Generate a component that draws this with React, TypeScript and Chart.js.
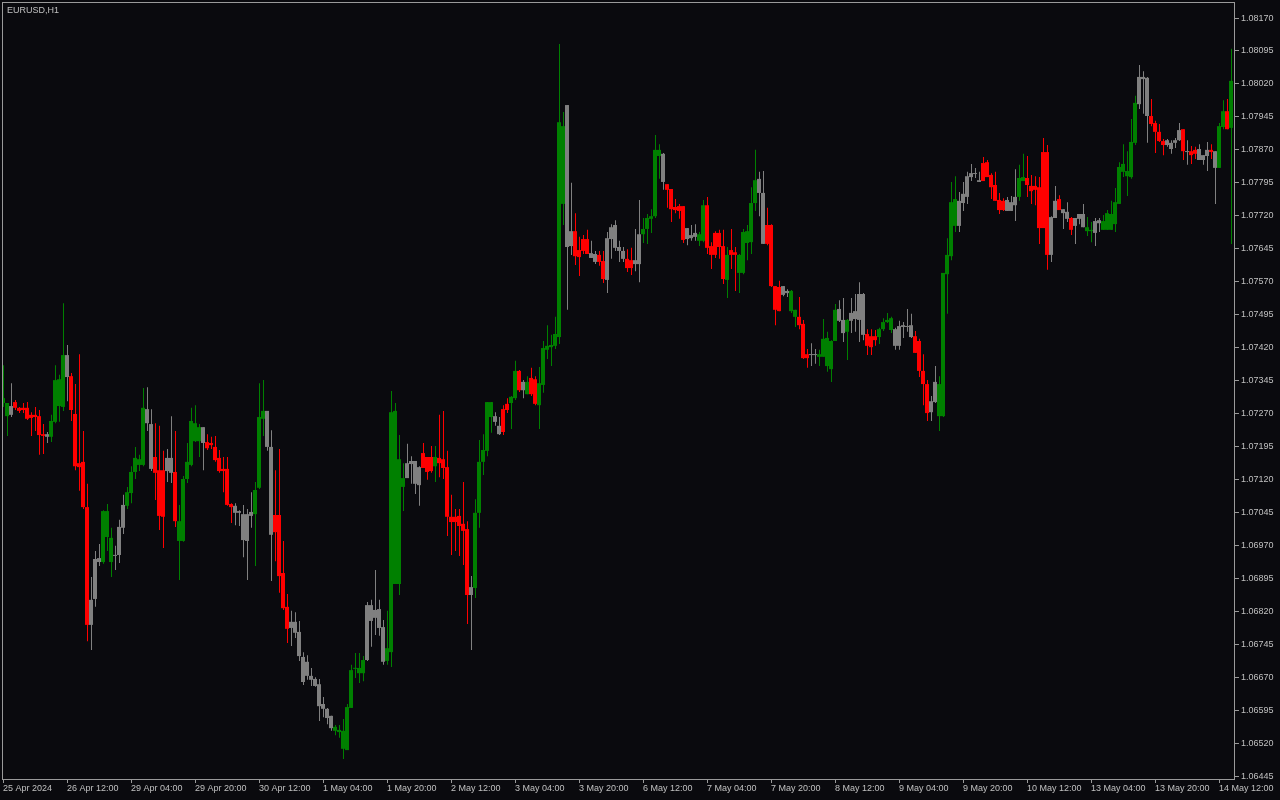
import React, { useEffect, useRef } from 'react';
import { Chart, registerables } from 'chart.js';

Chart.register(...registerables);

const symbolTitle = 'EURUSD,H1';

const timeLabels = [
  '25 Apr 2024', '26 Apr 12:00', '29 Apr 04:00', '29 Apr 20:00', '30 Apr 12:00',
  '1 May 04:00', '1 May 20:00', '2 May 12:00', '3 May 04:00', '3 May 20:00',
  '6 May 12:00', '7 May 04:00', '7 May 20:00', '8 May 12:00', '9 May 04:00',
  '9 May 20:00', '10 May 12:00', '13 May 04:00', '13 May 20:00', '14 May 12:00',
];
const barsPerTimeLabel = 16;

const priceTicks = [
  1.06445, 1.0652, 1.06595, 1.0667, 1.06745, 1.0682, 1.06895, 1.0697,
  1.07045, 1.0712, 1.07195, 1.0727, 1.07345, 1.0742, 1.07495, 1.0757,
  1.07645, 1.0772, 1.07795, 1.0787, 1.07945, 1.0802, 1.08095, 1.0817,
];
const priceMin = 1.06436;
const priceMax = 1.082065;

const opens = [
  1.07294,1.07264,1.07287,1.07296,1.07283,1.07283,1.07283,1.07267,1.07267,1.07264,
  1.07223,1.07217,1.07217,1.07251,1.07287,1.07285,1.07403,1.07355,1.07269,1.07157,
  1.07160,1.07057,1.06789,1.06848,1.06941,1.06932,1.06989,1.06932,1.06948,1.06948,
  1.07010,1.07060,1.07089,1.07137,1.07153,1.07153,1.07280,1.07246,1.07171,1.07141,
  1.07141,1.07139,1.07169,1.07137,1.06980,1.06980,1.07121,1.07153,1.07207,1.07207,
  1.07239,1.07205,1.07203,1.07194,1.07169,1.07144,1.07144,1.07064,1.07060,1.07048,
  1.07041,1.06980,1.07046,1.07041,1.07101,1.07258,1.07276,1.07194,1.07039,1.07039,
  1.06907,1.06830,1.06782,1.06796,1.06773,1.06716,1.06673,1.06673,1.06666,1.06654,
  1.06609,1.06598,1.06582,1.06548,1.06545,1.06507,1.06504,1.06600,1.06689,1.06679,
  1.06679,1.06709,1.06834,1.06805,1.06825,1.06784,1.06707,1.06727,1.07276,1.06882,
  1.07103,1.07123,1.07155,1.07162,1.07107,1.07180,1.07171,1.07171,1.07150,1.07169,
  1.07166,1.07148,1.07035,1.07035,1.07037,1.07019,1.07007,1.06857,1.06873,1.07044,
  1.07160,1.07185,1.07296,1.07264,1.07242,1.07228,1.07278,1.07294,1.07305,1.07367,
  1.07323,1.07342,1.07314,1.07348,1.07289,1.07335,1.07415,1.07421,1.07424,1.07444,
  1.07747,1.07972,1.07651,1.07685,1.07642,1.07640,1.07667,1.07635,1.07633,1.07631,
  1.07617,1.07574,1.07667,1.07699,1.07649,1.07640,1.07622,1.07619,1.07610,1.07610,
  1.07678,1.07690,1.07713,1.07719,1.07870,1.07861,1.07792,1.07781,1.07740,1.07742,
  1.07742,1.07667,1.07669,1.07681,1.07663,1.07663,1.07744,1.07651,1.07631,1.07681,
  1.07651,1.07574,1.07631,1.07637,1.07631,1.07590,1.07685,1.07660,1.07749,1.07804,
  1.07772,1.07656,1.07699,1.07560,1.07503,1.07560,1.07544,1.07549,1.07506,1.07490,
  1.07474,1.07396,1.07405,1.07403,1.07399,1.07399,1.07442,1.07371,1.07435,1.07508,
  1.07483,1.07456,1.07481,1.07503,1.07483,1.07542,1.07451,1.07446,1.07437,1.07444,
  1.07462,1.07478,1.07487,1.07462,1.07424,1.07471,1.07467,1.07471,1.07446,1.07435,
  1.07367,1.07337,1.07273,1.07296,1.07337,1.07264,1.07587,1.07628,1.07758,1.07697,
  1.07749,1.07763,1.07808,1.07817,1.07801,1.07799,1.07842,1.07813,1.07790,1.07756,
  1.07754,1.07731,1.07751,1.07744,1.07763,1.07799,1.07806,1.07788,1.07788,1.07785,
  1.07692,1.07865,1.07631,1.07715,1.07758,1.07735,1.07729,1.07715,1.07697,1.07713,
  1.07724,1.07694,1.07685,1.07681,1.07710,1.07688,1.07688,1.07688,1.07701,1.07747,
  1.07820,1.07810,1.07808,1.07886,1.07974,1.08036,1.08034,1.07947,1.07931,1.07911,
  1.07890,1.07881,1.07886,1.07886,1.07892,1.07917,1.07867,1.07867,1.07870,1.07872,
  1.07847,1.07856,1.07870,1.07867,1.07829,1.07922,1.07958,1.07920,
];

const highs = [
  1.07380,1.07294,1.07339,1.07301,1.07285,1.07294,1.07296,1.07273,1.07285,1.07278,
  1.07246,1.07228,1.07267,1.07380,1.07358,1.07521,1.07426,1.07362,1.07337,1.07405,
  1.07230,1.07110,1.06898,1.06957,1.06973,1.07050,1.07064,1.07010,1.06969,1.07028,
  1.07085,1.07103,1.07150,1.07194,1.07176,1.07328,1.07330,1.07280,1.07248,1.07242,
  1.07185,1.07189,1.07264,1.07230,1.07062,1.07128,1.07203,1.07283,1.07289,1.07246,
  1.07239,1.07223,1.07217,1.07219,1.07187,1.07171,1.07171,1.07066,1.07066,1.07050,
  1.07062,1.07053,1.07091,1.07114,1.07339,1.07346,1.07276,1.07232,1.07141,1.07189,
  1.06980,1.06859,1.06821,1.06818,1.06798,1.06727,1.06720,1.06691,1.06670,1.06666,
  1.06625,1.06600,1.06582,1.06561,1.06561,1.06575,1.06609,1.06698,1.06725,1.06725,
  1.06718,1.06841,1.06846,1.06914,1.06846,1.06800,1.06821,1.07321,1.07294,1.07221,
  1.07157,1.07201,1.07173,1.07162,1.07150,1.07203,1.07171,1.07196,1.07196,1.07267,
  1.07276,1.07185,1.07085,1.07053,1.07053,1.07114,1.07025,1.06900,1.07075,1.07210,
  1.07223,1.07296,1.07296,1.07273,1.07262,1.07289,1.07305,1.07310,1.07390,1.07369,
  1.07346,1.07355,1.07374,1.07355,1.07376,1.07435,1.07471,1.07449,1.07490,1.08111,
  1.07956,1.07972,1.07795,1.07726,1.07672,1.07676,1.07688,1.07663,1.07640,1.07640,
  1.07640,1.07683,1.07701,1.07710,1.07663,1.07649,1.07644,1.07647,1.07690,1.07756,
  1.07715,1.07724,1.07735,1.07904,1.07883,1.07863,1.07792,1.07781,1.07758,1.07747,
  1.07742,1.07692,1.07699,1.07701,1.07683,1.07756,1.07763,1.07660,1.07685,1.07688,
  1.07688,1.07649,1.07690,1.07649,1.07633,1.07690,1.07699,1.07785,1.07870,1.07820,
  1.07822,1.07738,1.07701,1.07560,1.07572,1.07560,1.07553,1.07551,1.07506,1.07535,
  1.07483,1.07417,1.07430,1.07417,1.07415,1.07485,1.07456,1.07437,1.07519,1.07528,
  1.07533,1.07485,1.07533,1.07542,1.07569,1.07544,1.07462,1.07462,1.07460,1.07465,
  1.07487,1.07499,1.07490,1.07465,1.07481,1.07478,1.07508,1.07497,1.07458,1.07440,
  1.07405,1.07346,1.07310,1.07378,1.07355,1.07590,1.07669,1.07797,1.07810,1.07774,
  1.07797,1.07820,1.07838,1.07829,1.07820,1.07854,1.07847,1.07817,1.07820,1.07772,
  1.07760,1.07763,1.07765,1.07826,1.07836,1.07861,1.07856,1.07813,1.07810,1.07808,
  1.07897,1.07881,1.07719,1.07788,1.07767,1.07735,1.07751,1.07717,1.07715,1.07724,
  1.07747,1.07717,1.07706,1.07715,1.07715,1.07722,1.07733,1.07754,1.07783,1.07842,
  1.07883,1.07867,1.07940,1.07993,1.08063,1.08049,1.08036,1.07986,1.07936,1.07929,
  1.07895,1.07895,1.07892,1.07897,1.07931,1.07917,1.07892,1.07879,1.07877,1.07883,
  1.07858,1.07888,1.07883,1.07867,1.07931,1.07983,1.07986,1.08100,
];

const lows = [
  1.07285,1.07219,1.07262,1.07278,1.07271,1.07271,1.07255,1.07219,1.07230,1.07176,
  1.07178,1.07203,1.07205,1.07248,1.07251,1.07276,1.07298,1.07253,1.07141,1.07094,
  1.07053,1.06752,1.06732,1.06830,1.06923,1.06928,1.06957,1.06898,1.06914,1.06930,
  1.06996,1.07053,1.07066,1.07121,1.07139,1.07150,1.07230,1.07139,1.07073,1.07005,
  1.06964,1.07114,1.07112,1.07012,1.06891,1.06978,1.07112,1.07150,1.07205,1.07171,
  1.07141,1.07187,1.07189,1.07160,1.07135,1.07091,1.07060,1.07021,1.07016,1.07014,
  1.06943,1.06891,1.07010,1.06923,1.07098,1.07219,1.07185,1.06889,1.06934,1.06862,
  1.06823,1.06748,1.06741,1.06759,1.06707,1.06652,1.06664,1.06650,1.06648,1.06570,
  1.06579,1.06563,1.06548,1.06538,1.06532,1.06484,1.06504,1.06600,1.06668,1.06657,
  1.06661,1.06707,1.06739,1.06766,1.06764,1.06698,1.06698,1.06693,1.06882,1.06857,
  1.07048,1.07123,1.07110,1.07087,1.07060,1.07146,1.07119,1.07135,1.07114,1.07125,
  1.07121,1.06991,1.06948,1.06957,1.06946,1.06925,1.06791,1.06732,1.06850,1.07010,
  1.07130,1.07173,1.07226,1.07242,1.07221,1.07221,1.07271,1.07235,1.07301,1.07319,
  1.07305,1.07314,1.07310,1.07289,1.07235,1.07317,1.07394,1.07378,1.07417,1.07428,
  1.07699,1.07506,1.07631,1.07608,1.07583,1.07633,1.07633,1.07624,1.07610,1.07606,
  1.07567,1.07544,1.07622,1.07640,1.07615,1.07615,1.07592,1.07585,1.07594,1.07569,
  1.07658,1.07656,1.07681,1.07715,1.07804,1.07779,1.07738,1.07706,1.07726,1.07713,
  1.07658,1.07653,1.07663,1.07663,1.07651,1.07660,1.07633,1.07599,1.07624,1.07622,
  1.07565,1.07533,1.07599,1.07549,1.07544,1.07587,1.07619,1.07633,1.07731,1.07719,
  1.07656,1.07653,1.07558,1.07471,1.07503,1.07537,1.07535,1.07499,1.07467,1.07462,
  1.07394,1.07374,1.07378,1.07383,1.07378,1.07399,1.07365,1.07342,1.07435,1.07478,
  1.07433,1.07392,1.07453,1.07456,1.07433,1.07437,1.07403,1.07403,1.07424,1.07428,
  1.07458,1.07476,1.07453,1.07415,1.07415,1.07442,1.07456,1.07442,1.07408,1.07353,
  1.07289,1.07253,1.07253,1.07294,1.07230,1.07262,1.07497,1.07619,1.07683,1.07683,
  1.07731,1.07747,1.07799,1.07806,1.07797,1.07799,1.07808,1.07758,1.07754,1.07724,
  1.07731,1.07731,1.07731,1.07708,1.07754,1.07799,1.07763,1.07747,1.07744,1.07656,
  1.07692,1.07597,1.07615,1.07715,1.07733,1.07690,1.07706,1.07676,1.07656,1.07701,
  1.07694,1.07674,1.07660,1.07651,1.07683,1.07688,1.07688,1.07688,1.07683,1.07747,
  1.07808,1.07765,1.07804,1.07881,1.07963,1.07952,1.07886,1.07924,1.07863,1.07888,
  1.07858,1.07877,1.07861,1.07874,1.07890,1.07847,1.07836,1.07838,1.07849,1.07847,
  1.07836,1.07822,1.07849,1.07747,1.07829,1.07917,1.07917,1.07656,
];

const closes = [
  1.07305,1.07294,1.07267,1.07283,1.07276,1.07278,1.07258,1.07260,1.07262,1.07221,
  1.07219,1.07223,1.07253,1.07346,1.07348,1.07403,1.07353,1.07278,1.07150,1.07148,
  1.07057,1.06789,1.06846,1.06939,1.06932,1.07048,1.07048,1.06987,1.06946,1.07012,
  1.07062,1.07091,1.07137,1.07169,1.07166,1.07283,1.07248,1.07144,1.07135,1.07037,
  1.07035,1.07169,1.07135,1.07025,1.07025,1.07121,1.07160,1.07253,1.07248,1.07239,
  1.07203,1.07191,1.07198,1.07164,1.07139,1.07139,1.07062,1.07057,1.07044,1.07044,
  1.06982,1.07041,1.07037,1.07096,1.07262,1.07276,1.07194,1.06994,1.07000,1.06900,
  1.06827,1.06780,1.06796,1.06771,1.06718,1.06659,1.06705,1.06664,1.06650,1.06604,
  1.06598,1.06577,1.06554,1.06557,1.06550,1.06548,1.06602,1.06686,1.06691,1.06691,
  1.06709,1.06834,1.06798,1.06823,1.06782,1.06705,1.06736,1.07273,1.06882,1.07166,
  1.07123,1.07157,1.07162,1.07110,1.07148,1.07146,1.07137,1.07139,1.07171,1.07157,
  1.07146,1.07035,1.07023,1.07023,1.07014,1.07003,1.06857,1.06875,1.07044,1.07160,
  1.07187,1.07296,1.07262,1.07251,1.07223,1.07280,1.07292,1.07308,1.07367,1.07323,
  1.07342,1.07314,1.07351,1.07292,1.07339,1.07419,1.07424,1.07426,1.07451,1.07933,
  1.07924,1.07649,1.07685,1.07628,1.07626,1.07667,1.07633,1.07624,1.07615,1.07615,
  1.07576,1.07669,1.07694,1.07647,1.07640,1.07622,1.07601,1.07601,1.07619,1.07678,
  1.07690,1.07715,1.07719,1.07870,1.07856,1.07797,1.07779,1.07735,1.07733,1.07731,
  1.07665,1.07692,1.07676,1.07672,1.07678,1.07744,1.07647,1.07631,1.07681,1.07649,
  1.07576,1.07631,1.07642,1.07631,1.07590,1.07683,1.07658,1.07749,1.07801,1.07772,
  1.07656,1.07699,1.07560,1.07506,1.07558,1.07540,1.07549,1.07503,1.07490,1.07471,
  1.07396,1.07405,1.07403,1.07405,1.07405,1.07440,1.07378,1.07435,1.07506,1.07481,
  1.07453,1.07483,1.07499,1.07485,1.07542,1.07449,1.07424,1.07421,1.07446,1.07462,
  1.07478,1.07483,1.07460,1.07424,1.07469,1.07467,1.07469,1.07444,1.07408,1.07367,
  1.07337,1.07271,1.07298,1.07342,1.07264,1.07590,1.07631,1.07751,1.07697,1.07754,
  1.07770,1.07810,1.07817,1.07815,1.07797,1.07840,1.07808,1.07785,1.07754,1.07733,
  1.07733,1.07756,1.07731,1.07763,1.07806,1.07808,1.07790,1.07776,1.07779,1.07692,
  1.07865,1.07631,1.07717,1.07754,1.07733,1.07726,1.07713,1.07688,1.07715,1.07724,
  1.07694,1.07685,1.07688,1.07708,1.07703,1.07708,1.07726,1.07724,1.07751,1.07831,
  1.07838,1.07822,1.07888,1.07977,1.08036,1.08031,1.07947,1.07929,1.07911,1.07890,
  1.07881,1.07892,1.07872,1.07892,1.07915,1.07867,1.07865,1.07858,1.07861,1.07847,
  1.07858,1.07870,1.07865,1.07829,1.07924,1.07958,1.07917,1.08027,
];

// G = trend up (green), R = trend down (red), N = neutral (grey)
const candleStates = [
  'GGNRRRRRRR', 'RNGGGGNRRR', 'RRNNNGGGNN', 'NGGGGGNNRR', 'RNNRGGGGGG',
  'NRRRRRRRNN', 'NNNGGGNNRR', 'RRNNNNNNNN', 'NNNGGGGGGG', 'GNNNNNGGGG',
  'GNNNNRRRGR', 'RRRRRRRNGG', 'GGGNNRRGGR', 'NGRRGGGGGG', 'GNNRRRRNNR',
  'RNNNNNRRNN', 'GGGGGNRRRR', 'RNNNGGRRRR', 'RGRRGGGGGN', 'NRRRRNNGGR',
  'RRNNGGGGGN', 'NGNNNNRRRG', 'GGGNNNNNRR', 'RRNNGGGGGN', 'NNNNNRRRRR',
  'RNNNGGRRRR', 'RRNNRNNRNN', 'NGGNNGGGGG', 'GGGGNNNRRR', 'RNNNNRNRRN',
  'NNRNGGRG',
].join('');

const BG = '#0a0a0e';
const TEXT = '#c0c0c0';
const FRAME = '#9a9a9a';
const palette: Record<string, string> = { G: '#008000', R: '#ff0000', N: '#808080' };
const FONT_FAMILY = '"Liberation Sans", Arial, sans-serif';

const mt4Decor = {
  id: 'mt4Decor',
  beforeDraw(chart: any) {
    const { ctx, width, height } = chart;
    ctx.save();
    ctx.fillStyle = BG;
    ctx.fillRect(0, 0, width, height);
    ctx.restore();
  },
  afterDraw(chart: any) {
    const { ctx, chartArea: a } = chart;
    ctx.save();
    ctx.strokeStyle = FRAME;
    ctx.lineWidth = 1;
    ctx.strokeRect(a.left + 0.5, a.top + 0.5, a.right - a.left, a.bottom - a.top - 1);
    ctx.fillStyle = TEXT;
    ctx.font = `9px ${FONT_FAMILY}`;
    ctx.textBaseline = 'middle';
    ctx.textAlign = 'left';
    ctx.fillText(symbolTitle, a.left + 5, a.top + 9);
    ctx.restore();
  },
};

export default function App() {
  const ref = useRef<HTMLCanvasElement>(null);

  useEffect(() => {
    const canvas = ref.current;
    if (!canvas) return;
    const n = opens.length;
    const idx = opens.map((_, i) => i);
    const colours = idx.map((i) => palette[candleStates[i]] || palette.N);
    const bodies = idx.map((i) => ({ x: i, y: [opens[i], closes[i]] }));
    const wicks = idx.map((i) => ({ x: i, y: [lows[i], highs[i]] }));
    const font = { family: FONT_FAMILY, size: 9 };

    const chart = new Chart(canvas, {
      type: 'bar',
      data: {
        datasets: [
          {
            label: 'body',
            data: bodies as any,
            xAxisID: 'x',
            yAxisID: 'y',
            backgroundColor: colours,
            barThickness: 4,
            grouped: false,
            minBarLength: 1,
            inflateAmount: 0,
            borderWidth: 0,
          } as any,
          {
            label: 'wick',
            data: wicks as any,
            xAxisID: 'x2',
            yAxisID: 'y',
            backgroundColor: colours,
            barThickness: 1,
            grouped: false,
            minBarLength: 1,
            inflateAmount: 0,
            borderWidth: 0,
          } as any,
        ],
      },
      options: {
        responsive: false,
        maintainAspectRatio: false,
        animation: false,
        devicePixelRatio: 1,
        events: [],
        layout: { padding: { left: 2, top: 2, right: 0, bottom: 0 } },
        plugins: {
          legend: { display: false },
          tooltip: { enabled: false },
          title: { display: false },
        },
        scales: {
          x: {
            type: 'linear',
            position: 'bottom',
            bounds: 'data',
            min: -0.25,
            max: n - 0.25,
            offset: false,
            grid: {
              display: true,
              drawOnChartArea: false,
              drawTicks: true,
              tickLength: 3,
              color: FRAME,
              offset: false,
            },
            border: { display: false },
            ticks: {
              autoSkip: false,
              maxRotation: 0,
              minRotation: 0,
              align: 'start',
              padding: 0,
              color: TEXT,
              font,
              callback: (_v: any, i: number) => timeLabels[i] ?? '',
            },
            afterBuildTicks: (s: any) => {
              s.ticks = timeLabels.map((_, k) => ({ value: k * barsPerTimeLabel }));
            },
            afterFit: (s: any) => {
              s.height = 20;
              s.paddingLeft = 0;
              s.paddingRight = 0;
            },
          } as any,
          x2: {
            type: 'linear',
            axis: 'x',
            position: 'bottom',
            display: false,
            bounds: 'data',
            min: -0.375,
            max: n - 0.375,
            offset: false,
            grid: { offset: false },
          } as any,
          y: {
            type: 'linear',
            position: 'right',
            bounds: 'data',
            min: priceMin,
            max: priceMax,
            beginAtZero: false,
            grid: {
              display: true,
              drawOnChartArea: false,
              drawTicks: true,
              tickLength: 5,
              color: FRAME,
            },
            border: { display: false },
            ticks: {
              color: TEXT,
              font,
              padding: 2,
              callback: (v: any) => Number(v).toFixed(5),
            },
            afterBuildTicks: (s: any) => {
              s.ticks = priceTicks.map((v) => ({ value: v }));
            },
            afterFit: (s: any) => {
              s.width = 46;
              s.paddingTop = 0;
              s.paddingBottom = 0;
            },
          } as any,
        },
      } as any,
      plugins: [mt4Decor],
    });

    return () => chart.destroy();
  }, []);

  return (
    <div style={{ position: 'fixed', left: 0, top: 0, width: 1280, height: 800, background: BG }}>
      <canvas ref={ref} width={1280} height={800} style={{ display: 'block' }} />
    </div>
  );
}
